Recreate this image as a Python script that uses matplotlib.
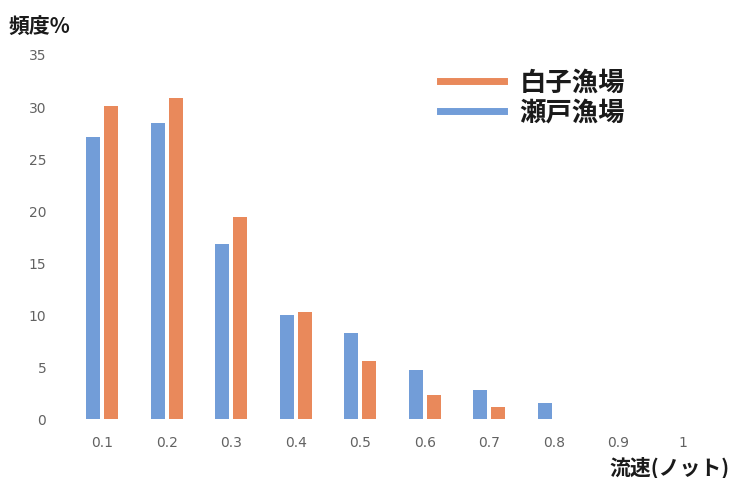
import numpy as np
import matplotlib.pyplot as plt
from matplotlib.lines import Line2D

# Data.
speeds = ['0.1', '0.2', '0.3', '0.4', '0.5', '0.6', '0.7', '0.8', '0.9', '1']
seto = [27.1, 28.5, 16.8, 10.0, 8.3, 4.7, 2.8, 1.6, 0, 0]      # 瀬戸漁場
shirako = [30.1, 30.9, 19.4, 10.3, 5.6, 2.3, 1.2, 0, 0, 0]     # 白子漁場

blue = '#729dd8'
orange = '#e9895b'
jp = ['Noto Sans CJK JP', 'DejaVu Sans']

fig = plt.figure(figsize=(7.35, 4.78), dpi=100)
ax = fig.add_axes([0.095, 0.123, 0.878, 0.762])

x = np.arange(len(speeds))
w = 0.217
off = 0.139
ax.bar(x - off, seto, width=w, color=blue)
ax.bar(x + off, shirako, width=w, color=orange)

ax.set_xlim(-0.5, len(speeds) - 0.5)
ax.set_ylim(0, 35)
ax.set_yticks(range(0, 36, 5))
ax.set_xticks(x)
ax.set_xticklabels(speeds)

for s in ax.spines.values():
    s.set_visible(False)
ax.tick_params(axis='both', length=0, labelsize=10, labelcolor='#626262')
ax.tick_params(axis='x', pad=12)
ax.tick_params(axis='y', pad=17)

# Axis titles.
fig.text(0.012, 0.945, '頻度%', family=jp, fontsize=15, fontweight='bold',
         color='#1a1a1a', va='center', ha='left')
fig.text(0.993, 0.022, '流速(ノット)', family=jp, fontsize=15, fontweight='bold',
         color='#1a1a1a', va='center', ha='right')

# Legend with line handles.
handles = [Line2D([], [], color=orange, lw=5), Line2D([], [], color=blue, lw=5)]
leg = fig.legend(handles, ['白子漁場', '瀬戸漁場'], loc='center left',
                 bbox_to_anchor=(0.566, 0.795), frameon=False,
                 prop={'family': jp, 'size': 19, 'weight': 'bold'},
                 handlelength=2.45, handletextpad=0.57, labelspacing=0.12)
for t in leg.get_texts():
    t.set_color('#1a1a1a')

plt.savefig('out.png', dpi=100)
plt.close()
